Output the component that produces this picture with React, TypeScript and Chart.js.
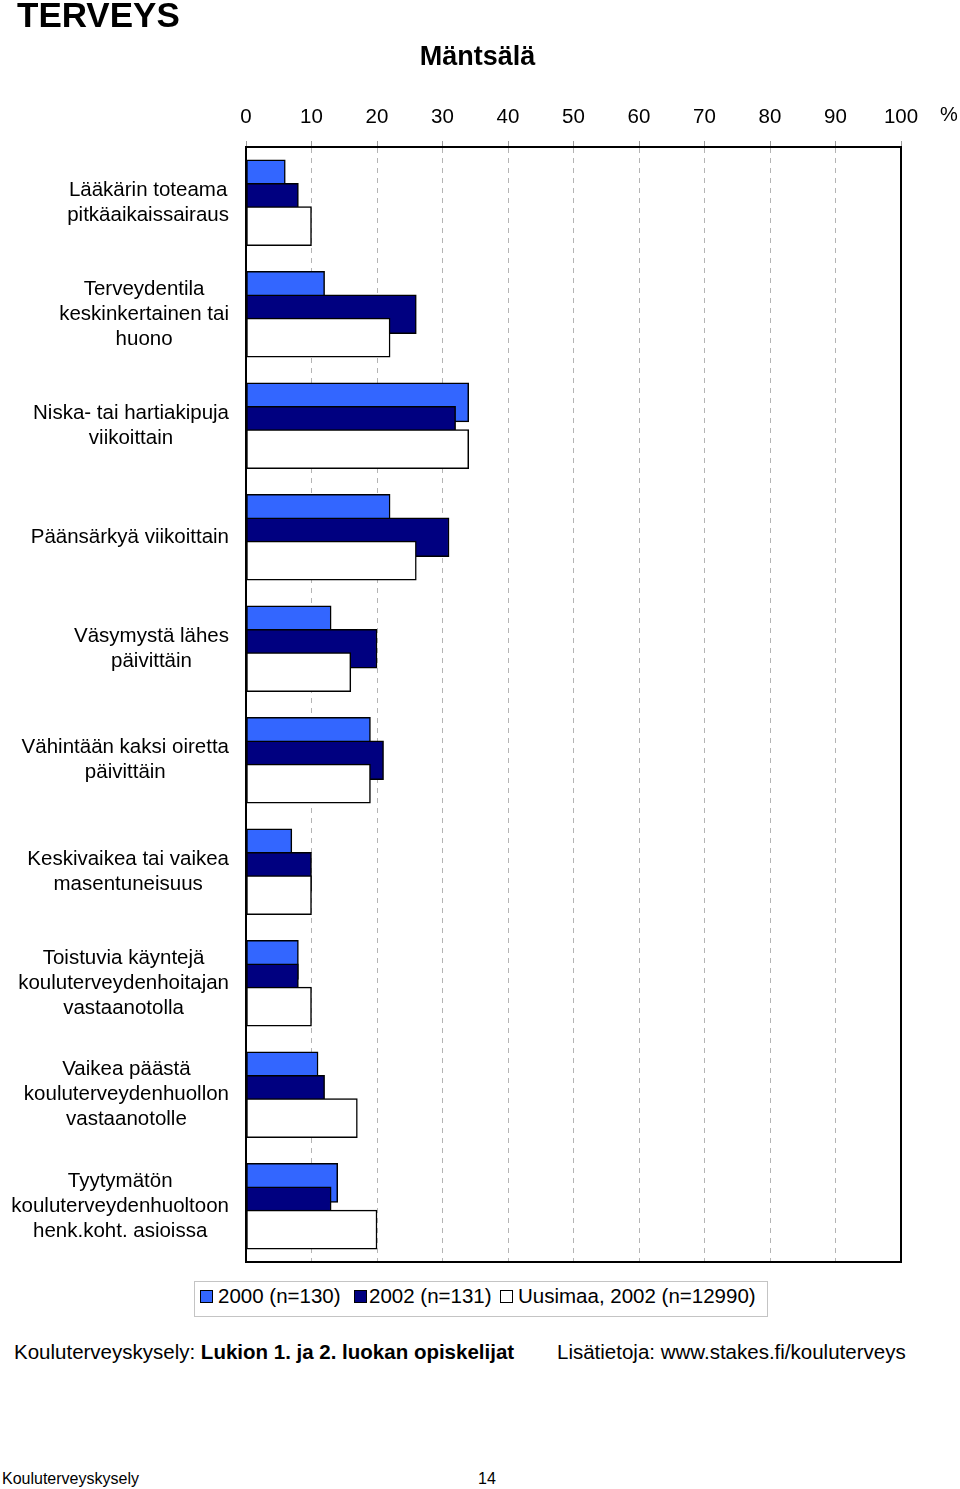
import React, { useEffect, useRef } from "react";
import { Chart, registerables } from "chart.js";

Chart.register(...registerables);

const FONT = '"Liberation Sans", Arial, Helvetica, sans-serif';
const FS = 20.5;

const categories: string[][] = [
  ["Lääkärin toteama", "pitkäaikaissairaus"],
  ["Terveydentila", "keskinkertainen tai", "huono"],
  ["Niska- tai hartiakipuja", "viikoittain"],
  ["Päänsärkyä viikoittain"],
  ["Väsymystä lähes", "päivittäin"],
  ["Vähintään kaksi oiretta", "päivittäin"],
  ["Keskivaikea tai vaikea", "masentuneisuus"],
  ["Toistuvia käyntejä", "kouluterveydenhoitajan", "vastaanotolla"],
  ["Vaikea päästä", "kouluterveydenhuollon", "vastaanotolle"],
  ["Tyytymätön", "kouluterveydenhuoltoon", "henk.koht. asioissa"],
];

const series2000 = [6, 12, 34, 22, 13, 19, 7, 8, 11, 14];
const series2002 = [8, 26, 32, 31, 20, 21, 10, 8, 12, 13];
const seriesUusimaa = [10, 22, 34, 26, 16, 19, 10, 10, 17, 20];

const seriesLabels = ["2000 (n=130)", "2002 (n=131)", "Uusimaa, 2002 (n=12990)"];
const seriesColors = ["#3366FF", "#000080", "#FFFFFF"];

const X_MIN = 0;
const X_MAX = 100;
const X_STEP = 10;

const yLabelPlugin = {
  id: "yLabels",
  afterDraw(chart: any) {
    const { ctx, chartArea, scales } = chart;
    const ys = scales.y;
    ctx.save();
    ctx.font = `${FS}px ${FONT}`;
    ctx.fillStyle = "#000";
    ctx.textAlign = "center";
    ctx.textBaseline = "middle";
    categories.forEach((lines, i) => {
      const cy = ys.getPixelForValue(i);
      const widest = Math.max(...lines.map((l) => ctx.measureText(l).width));
      const cx = chartArea.left - 17 - widest / 2;
      lines.forEach((line, j) => {
        ctx.fillText(line, cx, cy + (j - (lines.length - 1) / 2) * 25);
      });
    });
    ctx.restore();
  },
};

const framePlugin = {
  id: "frame",
  afterDatasetsDraw(chart: any) {
    const { ctx, chartArea } = chart;
    ctx.save();
    ctx.strokeStyle = "#000";
    ctx.lineWidth = 2;
    ctx.strokeRect(chartArea.left, chartArea.top, chartArea.right - chartArea.left, chartArea.bottom - chartArea.top);
    ctx.restore();
  },
};

function BarChart() {
  const ref = useRef<HTMLCanvasElement | null>(null);
  useEffect(() => {
    if (!ref.current) return;
    const offsets = [-0.209, 0, 0.209];
    const seriesValues = [series2000, series2002, seriesUusimaa];
    const chart = new Chart(ref.current, {
      type: "bar",
      data: {
        datasets: seriesValues.map((vals, k) => ({
          label: seriesLabels[k],
          data: vals.map((v, i) => ({ x: v, y: i + offsets[k] })),
          backgroundColor: seriesColors[k],
          borderColor: "#000",
          borderWidth: 1.5,
          borderSkipped: false,
          barThickness: 39,
          grouped: false,
          order: 3 - k,
        })),
      } as any,
      options: {
        indexAxis: "y",
        animation: false,
        responsive: false,
        maintainAspectRatio: false,
        layout: { padding: { left: 0, right: 59, top: 0, bottom: 18 } },
        plugins: {
          legend: { display: false },
          tooltip: { enabled: false },
          title: { display: false },
        },
        scales: {
          x: {
            type: "linear",
            position: "top",
            min: X_MIN,
            max: X_MAX,
            offset: false,
            ticks: {
              stepSize: X_STEP,
              color: "#000",
              font: { family: FONT, size: FS },
              padding: 11,
              maxRotation: 0,
              autoSkip: false,
            },
            grid: {
              offset: false,
              color: (c: any) =>
                c.tick && (c.tick.value === X_MIN || c.tick.value === X_MAX) ? "rgba(0,0,0,0)" : "#b4b4b4",
              lineWidth: 1,
              drawTicks: true,
              tickLength: 6,
              tickColor: "#9a9a9a",
              tickWidth: 1,
            },
            border: { display: true, color: "#000", width: 2, dash: [5, 5] },
            afterFit: (s: any) => {
              s.height = 147;
              s.paddingLeft = 0;
              s.paddingRight = 0;
            },
          },
          y: {
            type: "linear",
            reverse: true,
            offset: false,
            min: -0.5,
            max: categories.length - 0.5,
            afterBuildTicks: (s: any) => {
              s.ticks = categories.map((_, i) => ({ value: i }));
            },
            ticks: { display: false },
            grid: { display: false, offset: false },
            border: { display: true, color: "#000", width: 2 },
            afterFit: (s: any) => {
              s.width = 246;
              s.paddingTop = 0;
              s.paddingBottom = 0;
            },
          },
        },
      } as any,
      plugins: [yLabelPlugin, framePlugin],
    });
    return () => chart.destroy();
  }, []);
  return (
    <canvas
      ref={ref}
      width={960}
      height={1280}
      style={{ position: "absolute", left: 0, top: 0, width: 960, height: 1280 }}
    />
  );
}

const abs = (left: number, top: number, extra: React.CSSProperties = {}): React.CSSProperties => ({
  position: "absolute",
  left,
  top,
  whiteSpace: "nowrap",
  fontFamily: FONT,
  color: "#000",
  ...extra,
});

export default function App() {
  const legendSquares = [200, 354, 500];
  const legendTexts = [218, 369, 518];
  return (
    <div style={{ position: "absolute", left: 0, top: 0, width: 960, height: 1489, background: "#fff", overflow: "hidden" }}>
      <BarChart />
      <div style={abs(17, -3, { fontSize: 35, lineHeight: "35px", fontWeight: "bold" })}>TERVEYS</div>
      <div style={abs(477.5, 43, { fontSize: 27, lineHeight: "27px", fontWeight: "bold", transform: "translateX(-50%)" })}>
        Mäntsälä
      </div>
      <div style={abs(940, 104, { fontSize: 20, lineHeight: "20px" })}>%</div>
      <div
        style={{
          position: "absolute",
          left: 194,
          top: 1281,
          width: 574,
          height: 36,
          boxSizing: "border-box",
          border: "1px solid #c4c4c4",
        }}
      />
      {seriesLabels.map((lab, k) => (
        <React.Fragment key={lab}>
          <div
            style={{
              position: "absolute",
              left: legendSquares[k],
              top: 1290,
              width: 13,
              height: 13,
              boxSizing: "border-box",
              border: "1px solid #000",
              background: seriesColors[k],
            }}
          />
          <div style={abs(legendTexts[k], 1286, { fontSize: FS, lineHeight: "20px" })}>{lab}</div>
        </React.Fragment>
      ))}
      <div style={abs(14, 1342, { fontSize: FS, lineHeight: "20px" })}>
        Kouluterveyskysely: <b>Lukion 1. ja 2. luokan opiskelijat</b>
      </div>
      <div style={abs(557, 1342, { fontSize: FS, lineHeight: "20px" })}>Lisätietoja: www.stakes.fi/kouluterveys</div>
      <div style={abs(2, 1471, { fontSize: 16, lineHeight: "16px" })}>Kouluterveyskysely</div>
      <div style={abs(478, 1471, { fontSize: 16, lineHeight: "16px" })}>14</div>
    </div>
  );
}
